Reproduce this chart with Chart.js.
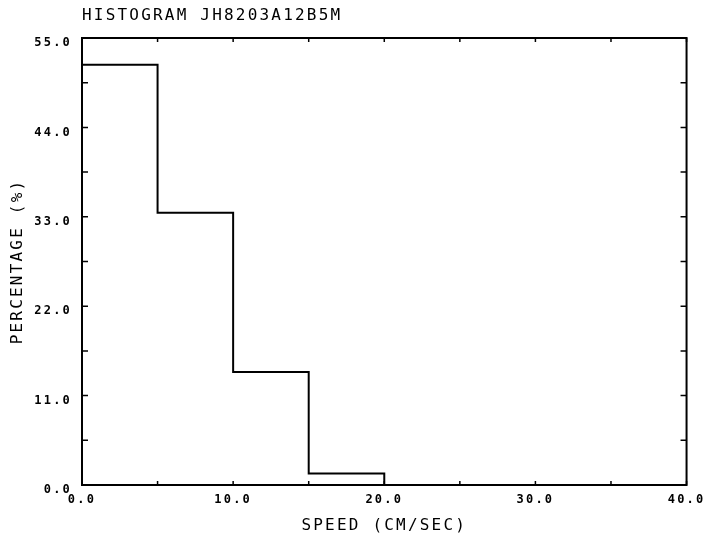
<!DOCTYPE html>
<html>
<head>
<meta charset="utf-8">
<script src="https://cdn.jsdelivr.net/npm/chart.js@4"></script>
<style>
	body { margin: 0; background: #fff; }
	canvas { display: block; }
</style>
</head>
<body>
<canvas id="myChart" width="709" height="538"></canvas>
<script>
// data
const binEdges = [0, 5, 10, 15, 20];
const percentages = [51.7, 33.5, 13.9, 1.4];
const chartTitle = 'HISTOGRAM JH8203A12B5M';
const xTitle = 'SPEED (CM/SEC)';
const yTitle = 'PERCENTAGE (%)';

// outline of the histogram
function histOutline(edges, values) {
	const pts = [];
	values.forEach((v, i) => {
		pts.push({ x: edges[i], y: v });
		pts.push({ x: edges[i + 1], y: v });
	});
	pts.push({ x: edges[edges.length - 1], y: 0 });
	return pts;
}

const FONT = "'DejaVu Sans Mono', monospace";

// white bg + spaced plotter-like lettering
const plotterLook = {
	id: 'plotterLook',
	beforeDraw(chart) {
		const ctx = chart.ctx;
		ctx.save();
		ctx.fillStyle = '#fff';
		ctx.fillRect(0, 0, chart.width, chart.height);
		ctx.restore();
		ctx.letterSpacing = '2.2px';
	},
	afterDraw(chart) {
		const ctx = chart.ctx;
		const { left, right, top, bottom } = chart.chartArea;
		const xs = chart.scales.x;
		const ys = chart.scales.y;
		ctx.save();
		ctx.strokeStyle = '#000';
		ctx.lineWidth = 2;
		ctx.strokeRect(left, top, right - left, bottom - top);
		ctx.lineWidth = 1.5;
		ctx.beginPath();
		// inward ticks, all four sides
		xs.ticks.forEach((t) => {
			const px = xs.getPixelForValue(t.value);
			ctx.moveTo(px, bottom);
			ctx.lineTo(px, bottom - 4);
			ctx.moveTo(px, top);
			ctx.lineTo(px, top + 4);
		});
		ys.ticks.forEach((t) => {
			const py = ys.getPixelForValue(t.value);
			ctx.moveTo(left, py);
			ctx.lineTo(left + 6, py);
			ctx.moveTo(right, py);
			ctx.lineTo(right - 6, py);
		});
		ctx.stroke();
		ctx.restore();
	},
};

const config = {
	type: 'line',
	data: {
		datasets: [
			{
				label: 'Percentage',
				data: histOutline(binEdges, percentages),
				borderColor: '#000',
				borderWidth: 2,
				pointRadius: 0,
				tension: 0,
				fill: false,
			},
		],
	},
	options: {
		responsive: false,
		animation: false,
		layout: {
			padding: { left: 0, right: 17, top: 6, bottom: 0 },
		},
		plugins: {
			legend: { display: false },
			tooltip: { enabled: false },
			title: {
				display: true,
				text: chartTitle,
				align: 'start',
				fullSize: false,
				color: '#000',
				font: { family: FONT, size: 16, weight: 'normal' },
				padding: { top: 0, bottom: 12.8 },
			},
		},
		scales: {
			x: {
				type: 'linear',
				min: 0,
				max: 40,
				afterFit(scale) {
					scale.height = 53;
				},
				grid: { display: false, drawTicks: false },
				border: { display: false },
				ticks: {
					stepSize: 5,
					autoSkip: false,
					maxRotation: 0,
					padding: 8,
					color: '#000',
					font: { family: FONT, size: 12, weight: 'bold' },
					callback: (v) => (v % 10 === 0 ? v.toFixed(1) : ''),
				},
				title: {
					display: true,
					text: xTitle,
					color: '#000',
					font: { family: FONT, size: 16 },
					padding: { top: 0, bottom: 3 },
				},
			},
			y: {
				type: 'linear',
				min: 0,
				max: 55,
				afterFit(scale) {
					scale.width = 82;
				},
				grid: { display: false, drawTicks: false },
				border: { display: false },
				ticks: {
					stepSize: 5.5,
					autoSkip: false,
					padding: 10,
					labelOffset: 5,
					color: '#000',
					font: { family: FONT, size: 12, weight: 'bold' },
					callback: (v) => (Math.round(v * 10) % 110 === 0 ? v.toFixed(1) : ''),
				},
				title: {
					display: true,
					text: yTitle,
					color: '#000',
					font: { family: FONT, size: 16 },
					padding: { top: 8, bottom: 0 },
				},
			},
		},
	},
	plugins: [plotterLook],
};

const myChart = new Chart(document.getElementById('myChart'), config);
</script>
</body>
</html>
